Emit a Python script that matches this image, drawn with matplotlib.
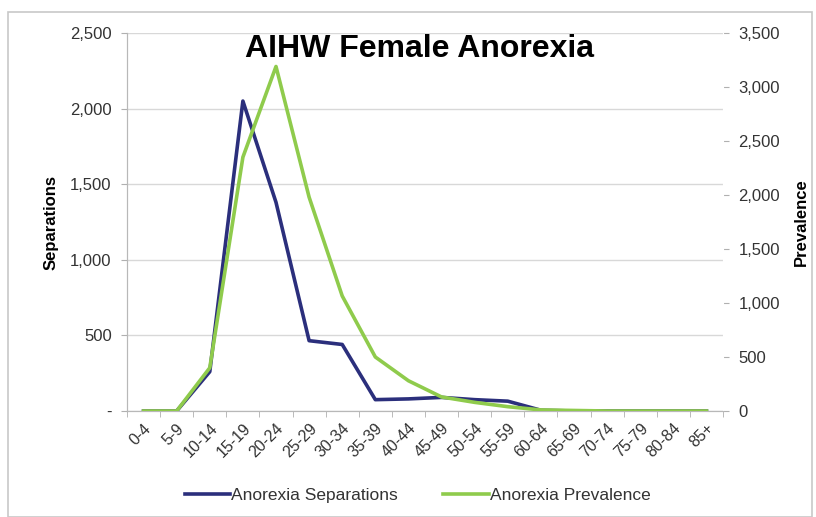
import matplotlib
matplotlib.use('Agg')
import matplotlib.pyplot as plt
from matplotlib.patches import Rectangle
from matplotlib.ticker import FuncFormatter

ages = ['0-4', '5-9', '10-14', '15-19', '20-24', '25-29', '30-34', '35-39', '40-44',
        '45-49', '50-54', '55-59', '60-64', '65-69', '70-74', '75-79', '80-84', '85+']
separations = [0, 0, 260, 2050, 1380, 465, 440, 75, 80, 90, 75, 65, 5, 0, 0, 0, 0, 0]
prevalence = [0, 0, 400, 2350, 3190, 1980, 1065, 500, 280, 130, 80, 40, 10, 5, 0, 0, 0, 0]

plt.rcParams['font.family'] = ['Liberation Sans', 'DejaVu Sans']

fig = plt.figure(figsize=(8.16, 5.17), dpi=100)
fig.patches.append(Rectangle((8/816, 0.0), 804/816, 1 - 12/517, transform=fig.transFigure,
                             fill=False, edgecolor='#c8c8c8', linewidth=1.2))
ax = fig.add_axes([127/816, 1 - 411/517, 596/816, 378/517])
ax2 = ax.twinx()

x = list(range(len(ages)))
ax.plot(x, separations, color='#2b2f7c', linewidth=2.6, label='Anorexia Separations', zorder=3)
ax2.plot(x, prevalence, color='#8fcb4c', linewidth=2.6, label='Anorexia Prevalence', zorder=3)

ax.set_xlim(-0.5, len(ages) - 0.5)
ax.set_ylim(0, 2500)
ax2.set_ylim(0, 3500)
ax.set_yticks(range(0, 2501, 500))
ax2.set_yticks(range(0, 3501, 500))

ax.yaxis.set_major_formatter(FuncFormatter(lambda v, p: '-' if v == 0 else f'{int(v):,}'))
ax2.yaxis.set_major_formatter(FuncFormatter(lambda v, p: f'{int(v):,}'))

ax.set_xticks(x)
ax.set_xticklabels(ages, rotation=45, ha='right', rotation_mode='anchor', fontsize=11.5,
                   color='#333333')
ax.set_xticks([i - 0.5 for i in range(len(ages) + 1)], minor=True)
ax.tick_params(axis='x', which='major', length=0, pad=7)
ax.tick_params(axis='x', which='minor', length=4, color='#b0b0b0')
ax.tick_params(axis='y', length=4, color='#b0b0b0', labelsize=12, labelcolor='#333333', pad=7)
ax2.tick_params(axis='y', length=4, color='#b0b0b0', labelsize=12, labelcolor='#333333', pad=7)

ax.grid(axis='y', color='#d8d8d8', linewidth=1)
for a in (ax, ax2):
    a.spines['top'].set_visible(False)
    a.spines['right'].set_visible(False)
    a.spines['left'].set_color('#b8b8b8')
    a.spines['bottom'].set_color('#b8b8b8')
ax2.spines['right'].set_visible(True)
ax2.spines['right'].set_color('#ffffff')

ax.set_ylabel('Separations', fontsize=12, fontweight='bold', labelpad=8)
ax2.set_ylabel('Prevalence', fontsize=12, fontweight='bold', rotation=90, labelpad=10)

ax.set_title('AIHW Female Anorexia', fontsize=23, fontweight='bold', y=0.915, x=0.49)

h1, l1 = ax.get_legend_handles_labels()
h2, l2 = ax2.get_legend_handles_labels()
fig.legend(h1 + h2, l1 + l2, loc='center', bbox_to_anchor=(0.512, 1 - 495/517), ncol=2,
           frameon=False, fontsize=12.5, handlelength=2.6, handletextpad=0.1, columnspacing=2.6,
           labelcolor='#333333')

fig.savefig('out.png', dpi=100)
